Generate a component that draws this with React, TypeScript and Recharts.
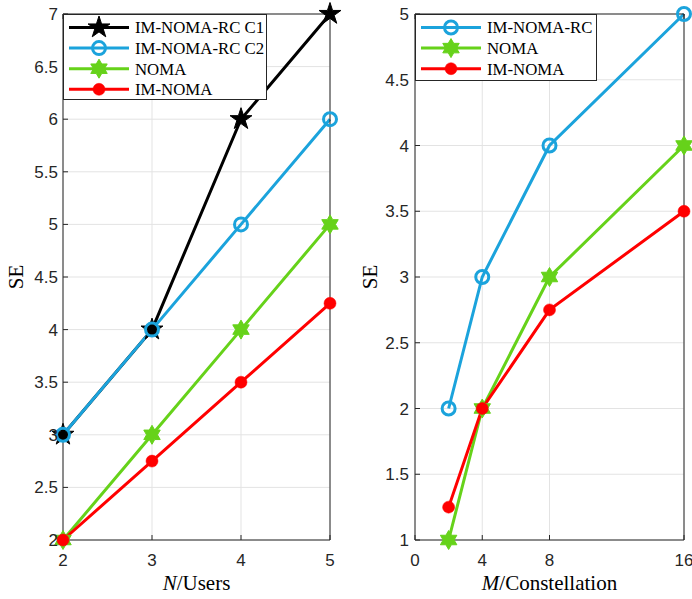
import React from 'react';
import { LineChart, Line, XAxis, YAxis, CartesianGrid, Legend } from 'recharts';

// ---------- Left panel: SE vs N/Users ----------
const usersX = [2, 3, 4, 5];
const rcC1Users = [3, 4, 6, 7];
const rcC2Users = [3, 4, 5, 6];
const nomaUsers = [2, 3, 4, 5];
const imNomaUsers = [2, 2.75, 3.5, 4.25];
const usersXTicks = [2, 3, 4, 5];
const usersYTicks = [2, 2.5, 3, 3.5, 4, 4.5, 5, 5.5, 6, 6.5, 7];
const usersNames = ['IM-NOMA-RC C1', 'IM-NOMA-RC C2', 'NOMA', 'IM-NOMA'];

// ---------- Right panel: SE vs M/Constellation ----------
const constX = [2, 4, 8, 16];
const rcConst = [2, 3, 4, 5];
const nomaConst = [1, 2, 3, 4];
const imNomaConst = [1.25, 2, 2.75, 3.5];
const constXTicks = [0, 4, 8, 16];
const constYTicks = [1, 1.5, 2, 2.5, 3, 3.5, 4, 4.5, 5];
const constNames = ['IM-NOMA-RC', 'NOMA', 'IM-NOMA'];

const usersData = usersX.map((x, i) => ({
  x,
  c1: rcC1Users[i],
  c2: rcC2Users[i],
  noma: nomaUsers[i],
  im: imNomaUsers[i],
}));
const constData = constX.map((x, i) => ({
  x,
  rc: rcConst[i],
  noma: nomaConst[i],
  im: imNomaConst[i],
}));

const BLACK = '#000000';
const BLUE = '#1BA3DC';
const GREEN = '#66D21A';
const RED = '#FF0000';
const AXIS = '#262626';
const GRID = '#e3e3e3';
const SANS = "'Liberation Sans', Arial, Helvetica, sans-serif";
const SERIF = "'Liberation Serif', 'Times New Roman', Times, serif";

function starPts(cx: number, cy: number, n: number, R: number, r: number) {
  const pts: string[] = [];
  for (let k = 0; k < 2 * n; k++) {
    const a = -Math.PI / 2 + (k * Math.PI) / n;
    const rad = k % 2 === 0 ? R : r;
    pts.push(`${(cx + rad * Math.cos(a)).toFixed(2)},${(cy + rad * Math.sin(a)).toFixed(2)}`);
  }
  return pts.join(' ');
}

type Kind = 'pent' | 'circle' | 'hex' | 'dot';

const Marker = ({ kind, cx, cy, color }: { kind: Kind; cx: number; cy: number; color: string }) => {
  if (cx == null || cy == null || isNaN(cx) || isNaN(cy)) return null;
  if (kind === 'pent')
    return <polygon points={starPts(cx, cy, 5, 11.5, 11.5 * 0.382)} fill={color} stroke={color} strokeWidth={1} />;
  if (kind === 'hex')
    return <polygon points={starPts(cx, cy, 6, 9.5, 9.5 / Math.sqrt(3))} fill={color} stroke={color} strokeWidth={1} />;
  if (kind === 'circle') return <circle cx={cx} cy={cy} r={6.5} fill="none" stroke={color} strokeWidth={3} />;
  return <circle cx={cx} cy={cy} r={6} fill={color} stroke={color} strokeWidth={0.5} />;
};

const dotFn = (kind: Kind, color: string) => (p: any) =>
  <Marker key={`m-${p.index}`} kind={kind} cx={p.cx} cy={p.cy} color={color} />;

type Entry = { name: string; color: string; kind: Kind };

const LegendBox = ({ entries, width, height }: { entries: Entry[]; width: number; height: number }) => (
  <svg width={width} height={height} style={{ display: 'block' }}>
    <rect x={0.5} y={0.5} width={width - 1} height={height - 1} fill="#fff" stroke={AXIS} strokeWidth={1} />
    {entries.map((e, i) => {
      const y = 13.5 + i * 20.6;
      return (
        <g key={e.name}>
          <line x1={6} x2={66} y1={y} y2={y} stroke={e.color} strokeWidth={3} />
          <Marker kind={e.kind} cx={36} cy={y} color={e.color} />
          <text x={72} y={y + 5.8} style={{ fontFamily: SERIF, fontSize: 16.8 }} fill="#000">
            {e.name}
          </text>
        </g>
      );
    })}
  </svg>
);

const usersEntries: Entry[] = [
  { name: usersNames[0], color: BLACK, kind: 'pent' },
  { name: usersNames[1], color: BLUE, kind: 'circle' },
  { name: usersNames[2], color: GREEN, kind: 'hex' },
  { name: usersNames[3], color: RED, kind: 'dot' },
];
const constEntries: Entry[] = [
  { name: constNames[0], color: BLUE, kind: 'circle' },
  { name: constNames[1], color: GREEN, kind: 'hex' },
  { name: constNames[2], color: RED, kind: 'dot' },
];

const yLabel = (offsetX: number) => (props: any) => {
  const vb = props.viewBox || {};
  const x = (vb.x ?? 0) + offsetX;
  const y = (vb.y ?? 0) + (vb.height ?? 0) / 2;
  return (
    <text x={x} y={y} transform={`rotate(-90 ${x} ${y})`} textAnchor="middle" style={{ fontFamily: SERIF, fontSize: 21 }} fill="#000">
      SE
    </text>
  );
};

const xLabel = (italic: string, rest: string) => (props: any) => {
  const vb = props.viewBox || {};
  const x = (vb.x ?? 0) + (vb.width ?? 0) / 2;
  const y = (vb.y ?? 0) + 49.5;
  return (
    <text x={x} y={y} textAnchor="middle" style={{ fontFamily: SERIF, fontSize: 21 }} fill="#000">
      <tspan style={{ fontStyle: 'italic' }}>{italic}</tspan>
      {rest}
    </text>
  );
};

const tickStyle = { fontFamily: SANS, fontSize: 17, fill: AXIS };
const axisLine = { stroke: AXIS, strokeWidth: 1 };
const tickLine = { stroke: AXIS, strokeWidth: 1 };
const blank = () => '';

export default function App() {
  return (
    <div style={{ position: 'absolute', left: 0, top: 0, width: 692, height: 599, background: '#fff' }}>
      <div style={{ position: 'absolute', left: 0, top: 0 }}>
        <LineChart width={350} height={599} data={usersData} margin={{ top: 13, right: 19, bottom: 0, left: 0 }}>
          <CartesianGrid xAxisId="b" yAxisId="l" stroke={GRID} strokeWidth={1} />
          <XAxis
            xAxisId="b"
            dataKey="x"
            type="number"
            domain={[2, 5]}
            ticks={usersXTicks}
            interval={0}
            height={59}
            tickSize={-5}
            tickMargin={19}
            tick={tickStyle}
            axisLine={axisLine}
            tickLine={tickLine}
            label={xLabel('N', '/Users')}
          />
          <XAxis
            xAxisId="t"
            orientation="top"
            dataKey="x"
            type="number"
            domain={[2, 5]}
            ticks={usersXTicks}
            interval={0}
            height={1}
            tickSize={-5}
            tickFormatter={blank}
            axisLine={axisLine}
            tickLine={tickLine}
          />
          <YAxis
            yAxisId="l"
            type="number"
            domain={[2, 7]}
            ticks={usersYTicks}
            interval={0}
            width={63}
            tickSize={-5}
            tickMargin={10}
            tick={tickStyle}
            axisLine={axisLine}
            tickLine={tickLine}
            label={yLabel(23)}
          />
          <YAxis
            yAxisId="r"
            orientation="right"
            type="number"
            domain={[2, 7]}
            ticks={usersYTicks}
            interval={0}
            width={1}
            tickSize={-5}
            tickFormatter={blank}
            axisLine={axisLine}
            tickLine={tickLine}
          />
          <Line xAxisId="b" yAxisId="l" dataKey="c1" stroke={BLACK} strokeWidth={3} dot={dotFn('pent', BLACK)} isAnimationActive={false} />
          <Line xAxisId="b" yAxisId="l" dataKey="c2" stroke={BLUE} strokeWidth={3} dot={dotFn('circle', BLUE)} isAnimationActive={false} />
          <Line xAxisId="b" yAxisId="l" dataKey="noma" stroke={GREEN} strokeWidth={3} dot={dotFn('hex', GREEN)} isAnimationActive={false} />
          <Line xAxisId="b" yAxisId="l" dataKey="im" stroke={RED} strokeWidth={3} dot={dotFn('dot', RED)} isAnimationActive={false} />
          <Legend
            layout="vertical"
            align="center"
            verticalAlign="middle"
            wrapperStyle={{ left: 63, top: 14, width: 204, height: 86 }}
            content={() => <LegendBox entries={usersEntries} width={204} height={86} />}
          />
        </LineChart>
      </div>
      <div style={{ position: 'absolute', left: 350, top: 0 }}>
        <LineChart width={342} height={599} data={constData} margin={{ top: 13, right: 7, bottom: 0, left: 0 }}>
          <CartesianGrid xAxisId="b" yAxisId="l" stroke={GRID} strokeWidth={1} />
          <XAxis
            xAxisId="b"
            dataKey="x"
            type="number"
            domain={[0, 16]}
            ticks={constXTicks}
            interval={0}
            height={59}
            tickSize={-5}
            tickMargin={19}
            tick={tickStyle}
            axisLine={axisLine}
            tickLine={tickLine}
            label={xLabel('M', '/Constellation')}
          />
          <XAxis
            xAxisId="t"
            orientation="top"
            dataKey="x"
            type="number"
            domain={[0, 16]}
            ticks={constXTicks}
            interval={0}
            height={1}
            tickSize={-5}
            tickFormatter={blank}
            axisLine={axisLine}
            tickLine={tickLine}
          />
          <YAxis
            yAxisId="l"
            type="number"
            domain={[1, 5]}
            ticks={constYTicks}
            interval={0}
            width={65}
            tickSize={-5}
            tickMargin={11}
            tick={tickStyle}
            axisLine={axisLine}
            tickLine={tickLine}
            label={yLabel(27)}
          />
          <YAxis
            yAxisId="r"
            orientation="right"
            type="number"
            domain={[1, 5]}
            ticks={constYTicks}
            interval={0}
            width={1}
            tickSize={-5}
            tickFormatter={blank}
            axisLine={axisLine}
            tickLine={tickLine}
          />
          <Line xAxisId="b" yAxisId="l" dataKey="rc" stroke={BLUE} strokeWidth={3} dot={dotFn('circle', BLUE)} isAnimationActive={false} />
          <Line xAxisId="b" yAxisId="l" dataKey="noma" stroke={GREEN} strokeWidth={3} dot={dotFn('hex', GREEN)} isAnimationActive={false} />
          <Line xAxisId="b" yAxisId="l" dataKey="im" stroke={RED} strokeWidth={3} dot={dotFn('dot', RED)} isAnimationActive={false} />
          <Legend
            layout="vertical"
            align="center"
            verticalAlign="middle"
            wrapperStyle={{ left: 65, top: 14, width: 182, height: 67 }}
            content={() => <LegendBox entries={constEntries} width={182} height={67} />}
          />
        </LineChart>
      </div>
    </div>
  );
}
